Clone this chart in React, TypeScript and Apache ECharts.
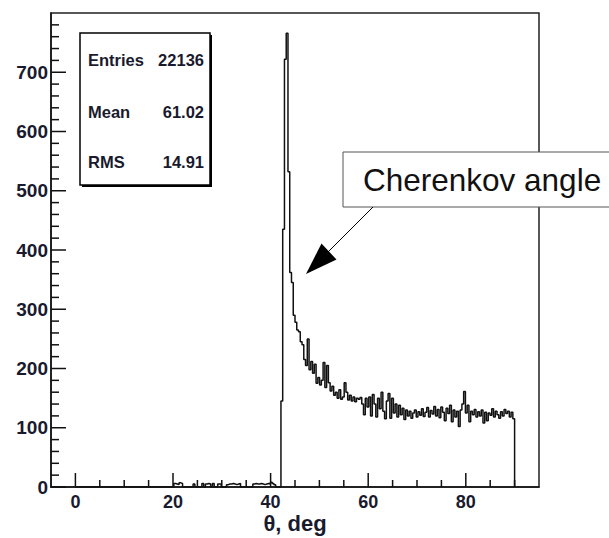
import React, { useEffect, useRef } from "react";
import * as echarts from "echarts";

// histogram bin width in degrees (250 bins over 0..90)
const binWidth = 0.36;
const histEnd = 90;

// bins 0..116 (0 - 42.12 deg): empty with a few small entries
const lowCounts = [
  0, 0, 0, 0, 0, 0, 0, 0, 0, 0, 0, 0, 0, 0, 0, 0, 0, 0, 0, 0,
  0, 0, 0, 0, 0, 0, 0, 0, 0, 0, 0, 0, 0, 0, 0, 0, 0, 0, 0, 0,
  0, 0, 0, 0, 0, 0, 0, 0, 0, 0, 0, 0, 0, 0, 0,
  0, 6, 5, 4, 7, 6, 0, 0, 0, 0, 0, 0, 5, 0, 0, 0, 0, 6, 0, 5,
  6, 5, 0, 6, 0, 0, 5, 5, 0, 0, 0, 4, 5, 5, 6, 5, 4, 5, 6, 0,
  0, 0, 0, 0, 0, 0, 5, 6, 5, 5, 6, 5, 4, 5, 6, 5, 8, 6, 4, 0,
  0, 0,
];

// bins 117..123: the Cherenkov peak
const peakCounts = [145, 435, 722, 766, 532, 362, 345];

// bins 124..249: the tail
const tailCounts = [
  290, 278, 265, 262, 245, 240, 215, 205, 250, 198,
  212, 192, 207, 175, 185, 172, 180, 210, 168, 205,
  176, 162, 170, 155, 160, 150, 164, 148, 152, 176,
  160, 147, 155, 145, 152, 144, 150, 148, 151, 140,
  122, 150, 135, 152, 120, 156, 140, 118, 150, 132,
  160, 128, 115, 145, 158, 116, 150, 125, 140, 118,
  138, 122, 133, 114, 130, 120, 128, 116, 125, 130,
  118, 127, 121, 132, 119, 126, 134, 118, 129, 123,
  136, 120, 131, 117, 135, 126, 112, 133, 124, 138,
  110, 130, 118, 128, 102, 130, 140, 161, 125, 138,
  110, 128, 122, 131, 118, 127, 120, 130, 108, 126,
  112, 125, 121, 132, 118, 128, 122, 116, 127, 120,
  131, 124, 128, 118, 126, 115,
];

// axis tick positions (ROOT style: long major, short minor, drawn inside the frame)
const xMajorTicks = [0, 20, 40, 60, 80];
const xTickValues = [0, 5, 10, 15, 20, 25, 30, 35, 40, 45, 50, 55, 60, 65, 70, 75, 80, 85, 90];
const yMajorTicks = [0, 100, 200, 300, 400, 500, 600, 700];
const yTickValues = [
  0, 20, 40, 60, 80, 100, 120, 140, 160, 180, 200, 220, 240, 260, 280, 300, 320, 340, 360, 380,
  400, 420, 440, 460, 480, 500, 520, 540, 560, 580, 600, 620, 640, 660, 680, 700, 720, 740, 760, 780,
];

const statsLabels = ["Entries", "Mean", "RMS"];
const statsValues = ["22136", "61.02", "14.91"];
const xTitle = "θ, deg";
const calloutText = "Cherenkov angle";

const FONT = '"Liberation Sans", Arial, sans-serif';

const ls = () => ({ color: "#111", width: 1.5 });

export default function App() {
  const ref = useRef<HTMLDivElement>(null);

  useEffect(() => {
    if (!ref.current) return;
    const chart = echarts.init(ref.current, undefined, { renderer: "svg" });

    const counts = [...lowCounts, ...peakCounts, ...tailCounts];
    const data: number[][] = counts.map((c, i) => [+(i * binWidth).toFixed(2), c]);
    data.push([histEnd, counts[counts.length - 1]]);
    data.push([histEnd, 0]);

    const statsRowsY = [60, 112, 162];
    const statsGraphics: any[] = [];
    statsLabels.forEach((lab, i) => {
      statsGraphics.push({
        type: "text",
        x: 88,
        y: statsRowsY[i],
        z: 102,
        style: {
          text: lab,
          font: `bold 16.5px ${FONT}`,
          fill: "#1a1a2e",
          textAlign: "left",
          align: "left",
          textVerticalAlign: "middle",
          verticalAlign: "middle",
        },
      });
      statsGraphics.push({
        type: "text",
        x: 204,
        y: statsRowsY[i],
        z: 102,
        style: {
          text: statsValues[i],
          font: `bold 16.5px ${FONT}`,
          fill: "#1a1a2e",
          textAlign: "right",
          align: "right",
          textVerticalAlign: "middle",
          verticalAlign: "middle",
        },
      });
    });

    const option: any = {
      animation: false,
      backgroundColor: "#fff",
      grid: {
        left: 51,
        right: 70,
        top: 13,
        bottom: 51,
        show: true,
        borderColor: "#222",
        borderWidth: 1.5,
      },
      xAxis: {
        type: "value",
        min: -5,
        max: 95,
        interval: 5,
        axisLine: { show: true, onZero: false, lineStyle: ls() },
        axisTick: { show: false },
        axisLabel: {
          margin: 6,
          fontSize: 18,
          fontWeight: "bold",
          fontFamily: FONT,
          color: "#1a1a2e",
          formatter: (v: number) => (xMajorTicks.indexOf(v) >= 0 ? String(v) : ""),
        },
        splitLine: { show: false },
      },
      yAxis: {
        type: "value",
        min: 0,
        max: 800,
        interval: 100,
        axisLine: { show: true, onZero: false, lineStyle: ls() },
        axisTick: { show: false },
        axisLabel: {
          margin: 3,
          fontSize: 19,
          fontWeight: "bold",
          fontFamily: FONT,
          color: "#1a1a2e",
          formatter: (v: number) => (yMajorTicks.indexOf(v) >= 0 ? String(v) : ""),
        },
        splitLine: { show: false },
      },
      series: [
        {
          type: "line",
          step: "end",
          data,
          symbol: "none",
          lineStyle: { color: "#111", width: 1.5 },
          z: 3,
        },
        {
          type: "custom",
          silent: true,
          clip: false,
          z: 4,
          data: xTickValues.map((v) => [v, 0]),
          renderItem: (params: any, api: any) => {
            const v = api.value(0);
            const px = api.coord([v, 0])[0];
            const cs = params.coordSys;
            const bottom = cs.y + cs.height;
            const len = xMajorTicks.indexOf(v) >= 0 ? 14 : 7;
            return {
              type: "line",
              shape: { x1: px, y1: bottom, x2: px, y2: bottom - len },
              style: { stroke: "#111", lineWidth: 1.5 },
            };
          },
        },
        {
          type: "custom",
          silent: true,
          clip: false,
          z: 4,
          data: yTickValues.map((v) => [0, v]),
          renderItem: (params: any, api: any) => {
            const v = api.value(1);
            const py = api.coord([0, v])[1];
            const cs = params.coordSys;
            const left = cs.x;
            const len = yMajorTicks.indexOf(v) >= 0 ? 15 : 8;
            return {
              type: "line",
              shape: { x1: left, y1: py, x2: left + len, y2: py },
              style: { stroke: "#111", lineWidth: 1.5 },
            };
          },
        },
      ],
      graphic: [
        {
          type: "rect",
          z: 100,
          shape: { x: 82, y: 35, width: 130, height: 152 },
          style: { fill: "#000" },
        },
        {
          type: "rect",
          z: 101,
          shape: { x: 80, y: 33, width: 130, height: 152 },
          style: { fill: "#fff", stroke: "#000", lineWidth: 1.5 },
        },
        ...statsGraphics,
        {
          type: "rect",
          z: 110,
          shape: { x: 343, y: 152, width: 290, height: 55 },
          style: { fill: "#fff", stroke: "#555", lineWidth: 1 },
        },
        {
          type: "text",
          z: 111,
          x: 363,
          y: 180,
          style: {
            text: calloutText,
            font: `31.5px ${FONT}`,
            fill: "#111",
            textAlign: "left",
            align: "left",
            textVerticalAlign: "middle",
            verticalAlign: "middle",
          },
        },
        {
          type: "line",
          z: 110,
          shape: { x1: 373, y1: 207, x2: 320, y2: 260 },
          style: { stroke: "#000", lineWidth: 1 },
        },
        {
          type: "polygon",
          z: 110,
          shape: { points: [[306, 274], [321.5, 243.5], [336.5, 259.5]] },
          style: { fill: "#000" },
        },
        {
          type: "text",
          z: 110,
          x: 295,
          y: 523,
          style: {
            text: xTitle,
            font: `bold 22px ${FONT}`,
            fill: "#1a1a2e",
            textAlign: "center",
            align: "center",
            textVerticalAlign: "middle",
            verticalAlign: "middle",
          },
        },
      ],
    };

    chart.setOption(option);
    return () => chart.dispose();
  }, []);

  return (
    <div
      ref={ref}
      style={{ position: "absolute", left: 0, top: 0, width: 609, height: 538 }}
    />
  );
}
